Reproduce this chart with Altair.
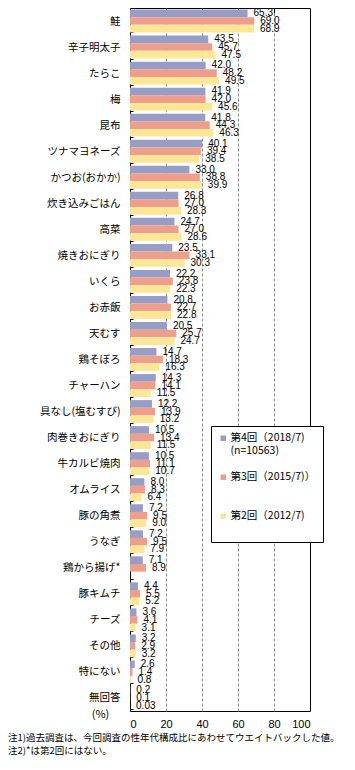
import altair as alt
import pandas as pd

categories = ["鮭", "辛子明太子", "たらこ", "梅", "昆布", "ツナマヨネーズ", "かつお(おかか)",
              "炊き込みごはん", "高菜", "焼きおにぎり", "いくら", "お赤飯", "天むす", "鶏そぼろ",
              "チャーハン", "具なし(塩むすび)", "肉巻きおにぎり", "牛カルビ焼肉", "オムライス",
              "豚の角煮", "うなぎ", "鶏から揚げ*", "豚キムチ", "チーズ", "その他", "特にない", "無回答"]
s4 = [65.3, 43.5, 42.0, 41.9, 41.8, 40.1, 33.0, 26.8, 24.7, 23.5, 22.2, 20.8, 20.5, 14.7,
      14.3, 12.2, 10.5, 10.5, 8.0, 7.2, 7.2, 7.1, 4.4, 3.6, 3.2, 2.6, 0.2]
s3 = [69.0, 45.7, 48.2, 42.0, 44.3, 39.4, 38.8, 27.0, 27.0, 33.1, 23.8, 22.7, 25.7, 18.3,
      14.1, 13.9, 13.4, 11.1, 8.3, 9.5, 9.5, 8.9, 5.5, 4.1, 2.9, 1.4, 0.1]
s2 = [68.9, 47.5, 49.5, 45.6, 46.3, 38.5, 39.9, 28.3, 28.6, 30.3, 22.3, 22.8, 24.7, 16.3,
      11.5, 13.2, 11.5, 10.7, 6.4, 9.0, 7.9, None, 5.2, 3.1, 3.2, 0.8, 0.03]
series = ["第4回（2018/7)", "第3回（2015/7)）", "第2回（2012/7)"]
colors = ["#979dc4", "#ee9f8b", "#fde796"]
x_ticks = [0, 20, 40, 60, 80, 100]
notes = ["注1)過去調査は、今回調査の性年代構成比にあわせてウエイトバックした値。",
         "注2)*は第2回にはない。"]

rows = []
for vals, s in zip([s4, s3, s2], series):
    for c, v in zip(categories, vals):
        if v is None:
            continue
        lab = f"{v:.1f}" if v >= 0.05 else f"{v:.2f}"
        rows.append({"cat": c, "series": s, "value": v, "label": lab})
df = pd.DataFrame(rows)

legend_domain = [series[0], "(n=10563)", " ", series[1], "  ", "   ", series[2], "    "]
legend_range = [colors[0], "transparent", "transparent", colors[1], "transparent",
                "transparent", colors[2], "transparent"]

yscale = alt.Scale(domain=categories, paddingInner=0.12, paddingOuter=0.06)
yoff = alt.YOffset("series:N", sort=series,
                   scale=alt.Scale(domain=series, paddingInner=0, paddingOuter=0))
xscale = alt.Scale(domain=[0, 100], nice=False)

bars = alt.Chart(df).mark_bar().encode(
    x=alt.X("value:Q", scale=xscale,
            axis=alt.Axis(values=x_ticks, grid=True, gridDash=[3, 2], gridColor="#8a8a8a",
                          gridOpacity={"condition": {"test": "datum.value === 0 || datum.value === 100", "value": 0}, "value": 1},
                          domain=False, ticks=False, tickSize=0, labelPadding=7,
                          labelFont="Liberation Sans", labelFontSize=11, labelColor="black",
                          title="(%)", titleX=-30, titleY=3, titleAlign="center",
                          titleBaseline="middle", titleFont="Noto Sans CJK JP",
                          titleFontSize=11, titleFontWeight="normal", titleColor="black")),
    y=alt.Y("cat:N", sort=categories, scale=yscale,
            axis=alt.Axis(title=None, offset=-3, domain=False, ticks=True, tickSize=3,
                          tickBand="extent", tickColor="black", labelPadding=10,
                          labelFont="Noto Sans CJK JP", labelFontSize=10.5,
                          labelColor="black", labelLimit=200)),
    yOffset=yoff,
    color=alt.Color("series:N", scale=alt.Scale(domain=legend_domain, range=legend_range),
                    legend=alt.Legend(title=None, orient="none", legendX=81, legendY=418,
                                      symbolType="square", symbolSize=30, symbolStrokeWidth=0,
                                      labelFont="Noto Sans CJK JP", labelFontSize=10.5,
                                      labelColor="black", labelOffset=2, rowPadding=2,
                                      padding=7, strokeColor="black", fillColor="white",
                                      labelLimit=200)),
)

labels = alt.Chart(df).mark_text(align="left", baseline="middle", dx=6,
                                 font="Liberation Sans", fontSize=10, color="black").encode(
    x=alt.X("value:Q", scale=xscale,
            axis=alt.Axis(orient="top", values=[20, 40, 60, 80], labels=False, grid=False,
                          domain=False, ticks=True, tickSize=5, offset=-5,
                          tickColor="black", title=None)),
    y=alt.Y("cat:N", sort=categories, scale=yscale, axis=None),
    yOffset=yoff,
    text="label:N",
)

chart = alt.layer(bars, labels).resolve_axis(x="independent", y="independent").properties(
    width=180, height=703,
    autosize=alt.AutoSizeParams(type="none"),
    padding={"left": 122, "top": 0, "right": 35, "bottom": 47},
    title=alt.TitleParams(text=notes, orient="bottom", anchor="start", frame="group",
                          dx=-122, offset=4, fontSize=9.5, font="Noto Sans CJK JP",
                          fontWeight="normal", lineHeight=13, color="black", baseline="top"),
).configure_view(stroke="black", strokeWidth=1)

chart.save("out.html", embed_options={"renderer": "svg", "actions": False})
